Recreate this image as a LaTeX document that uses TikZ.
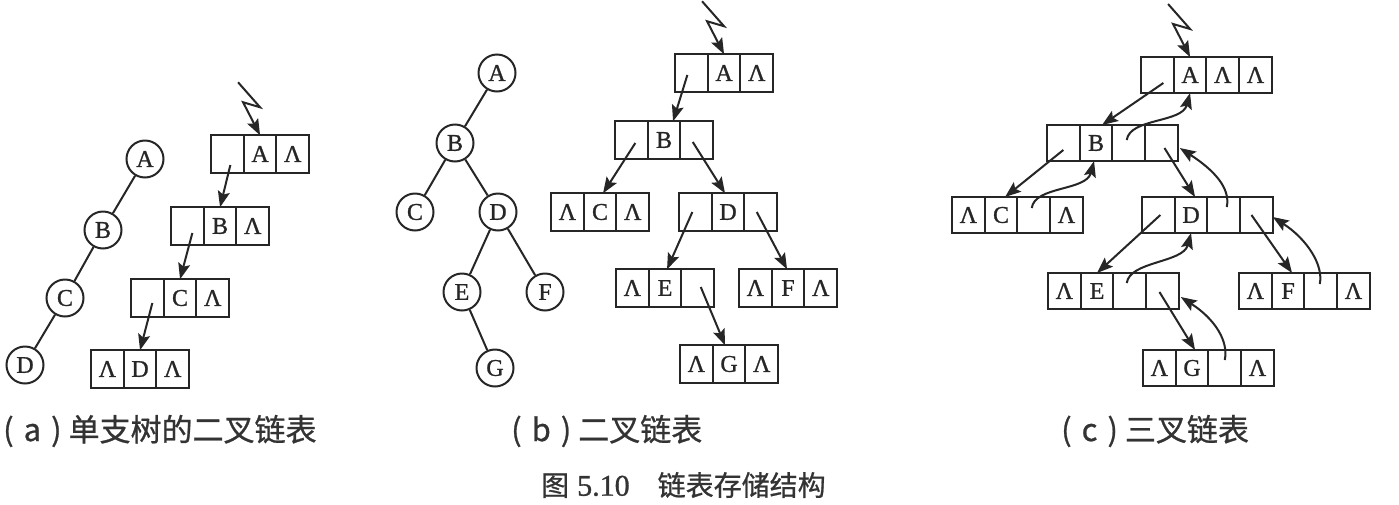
\documentclass[tikz,border=0pt]{standalone}
\usepackage{fontspec}
\setmainfont{Liberation Serif}[FakeBold=1]
\newfontfamily\cjk{Noto Sans CJK SC}[FakeBold=0.8]
\usetikzlibrary{arrows.meta,calc}
\newcommand\mkthree[5]{%
  \node[cell,anchor=west] (#1-1) at (#2) {#3};
  \node[cell,anchor=west] (#1-2) at (#1-1.east) {#4};
  \node[cell,anchor=west] (#1-3) at (#1-2.east) {#5};}
\newcommand\mkfour[6]{%
  \node[ccell,anchor=west] (#1-1) at (#2) {#3};
  \node[ccell,anchor=west] (#1-2) at (#1-1.east) {#4};
  \node[ccell,anchor=west] (#1-3) at (#1-2.east) {#5};
  \node[ccell,anchor=west] (#1-4) at (#1-3.east) {#6};}
\newcommand\zap[1]{\draw[ptr] ($(#1)+(-22,-53)$) -- ++(22,25) -- ++(-17,-5) -- (#1);}
\begin{document}
\begin{tikzpicture}[x=1pt,y=-1pt,
  cell/.style={draw=black!85,line width=2pt,minimum width=32.7pt,minimum height=37.5pt,inner sep=0pt,outer sep=0pt,font=\fontsize{24}{24}\selectfont,text=black!85},
  ccell/.style={cell,minimum height=36pt},
  vtx/.style={circle,draw=black!85,line width=2pt,minimum size=37pt,inner sep=0pt,font=\fontsize{24}{24}\selectfont,text=black!85},
  edge/.style={draw=black!85,line width=2pt},
  ptr/.style={draw=black!85,line width=2pt,-{Stealth[length=16pt,width=12pt,inset=3pt]}},
  captxt/.style={font=\cjk\fontsize{31}{31}\selectfont,text=black!80,inner sep=0pt,anchor=west}]
\useasboundingbox[fill=white] (0,0) rectangle (1399,504);
% ---------- (a) ----------
\node[vtx] (tA) at (145,159) {A};
\node[vtx] (tB) at (103,230) {B};
\node[vtx] (tC) at (65,298) {C};
\node[vtx] (tD) at (25,365) {D};
\draw[edge] (tA)--(tB) (tB)--(tC) (tC)--(tD);
\mkthree{aA}{211,154}{}{A}{Λ}
\mkthree{aB}{171,226}{}{B}{Λ}
\mkthree{aC}{131,298}{}{C}{Λ}
\mkthree{aD}{91,369}{Λ}{D}{Λ}
\zap{aA-2.north}
\draw[ptr] ($(aA-1.center)+(3,11)$) -- (aB-2.north);
\draw[ptr] ($(aB-1.center)+(5,7)$) -- (aC-2.north);
\draw[ptr] ($(aC-1.center)+(5,5)$) -- (aD-2.north);
% ---------- (b) ----------
\node[vtx] (bA) at (497,73) {A};
\node[vtx] (bB) at (455,143) {B};
\node[vtx] (bC) at (415,212) {C};
\node[vtx] (bD) at (498,212) {D};
\node[vtx] (bE) at (462,292) {E};
\node[vtx] (bF) at (545,292) {F};
\node[vtx] (bG) at (495,368) {G};
\draw[edge] (bA)--(bB) (bB)--(bC) (bB)--(bD) (bD)--(bE) (bD)--(bF) (bE)--(bG);
\mkthree{lA}{675,73}{}{A}{Λ}
\mkthree{lB}{615,140}{}{B}{}
\mkthree{lC}{551,212}{Λ}{C}{Λ}
\mkthree{lD}{679,212}{}{D}{}
\mkthree{lE}{616,288}{Λ}{E}{}
\mkthree{lF}{739,288}{Λ}{F}{Λ}
\mkthree{lG}{680,364}{Λ}{G}{Λ}
\zap{lA-2.north}
\draw[ptr] ($(lA-1.center)+(-4,2)$) -- ($(lB-2.north)+(9,0)$);
\draw[ptr] ($(lB-1.center)+(4,3)$) -- ($(lC-2.north)+(3,0)$);
\draw[ptr] ($(lB-3.center)+(-4,2)$) -- ($(lD-2.north)+(-3,0)$);
\draw[ptr] ($(lD-1.center)+(-3,0)$) -- ($(lE-2.north)+(2,0)$);
\draw[ptr] ($(lD-3.center)+(-4,0)$) -- ($(lF-2.north)+(-1,0)$);
\draw[ptr] ($(lE-3.center)+(3,-1)$) -- ($(lG-2.north)+(-4,0)$);
% ---------- (c) ----------
\mkfour{cA}{1141,75}{}{A}{Λ}{Λ}
\mkfour{cB}{1047,143}{}{B}{}{}
\mkfour{cC}{952,215}{Λ}{C}{}{Λ}
\mkfour{cD}{1142,215}{}{D}{}{}
\mkfour{cE}{1048,291}{Λ}{E}{}{}
\mkfour{cF}{1239,291}{Λ}{F}{}{Λ}
\mkfour{cG}{1143,368}{Λ}{G}{}{Λ}
\zap{cA-2.north}
\draw[ptr] ($(cA-1.center)+(6,8)$) -- ($(cB-2.north)+(6,0)$);
\draw[ptr] ($(cB-3.center)+(-2,-3)$) .. controls +(3,-22) and +(-8,30) .. (cA-2.south);
\draw[ptr] ($(cB-1.center)+(0,7)$) -- ($(cC-2.north)+(4,0)$);
\draw[ptr] ($(cC-3.center)+(-2,-7)$) .. controls +(3,-22) and +(-8,30) .. ($(cB-2.south)+(-2,0)$);
\draw[ptr] ($(cB-4.center)+(3,5)$) -- ($(cD-2.north)+(4,0)$);
\draw[ptr] ($(cD-3.center)+(3,-8)$) .. controls +(4,-19) and +(34,22) .. ($(cB-4.south east)+(2,-13)$);
\draw[ptr] ($(cD-1.center)+(2,0)$) -- (cE-2.north);
\draw[ptr] ($(cE-3.center)+(-3,-8)$) .. controls +(3,-22) and +(-8,30) .. (cD-2.south);
\draw[ptr] ($(cD-4.center)+(-5,0)$) -- ($(cF-2.north)+(4,0)$);
\draw[ptr] ($(cF-3.center)+(-1,-7)$) .. controls +(4,-19) and +(34,22) .. ($(cD-4.east)+(0,2)$);
\draw[ptr] ($(cE-4.center)+(-3,1)$) -- ($(cG-2.north)+(3,0)$);
\draw[ptr] ($(cG-3.center)+(0,-8)$) .. controls +(4,-19) and +(34,22) .. ($(cE-4.east)+(2,6)$);
% ---------- captions ----------
\node[captxt] (capa) at (3,431) {(\hspace{10pt}a\hspace{10pt})\hspace{7pt}单支树的二叉链表};
\node[captxt] (capb) at (511,431) {(\hspace{10pt}b\hspace{10pt})\hspace{7pt}二叉链表};
\node[captxt] (capc) at (1061,431) {(\hspace{10pt}c\hspace{10pt})\hspace{7pt}三叉链表};
\node[captxt,font=\fontsize{28}{28}\selectfont] (capm) at (541,485) {{\cjk 图}\hspace{8pt}{\fontsize{30}{30}\selectfont 5.10}\hspace{28pt}{\cjk 链表存储结构}};
\end{tikzpicture}
\end{document}
